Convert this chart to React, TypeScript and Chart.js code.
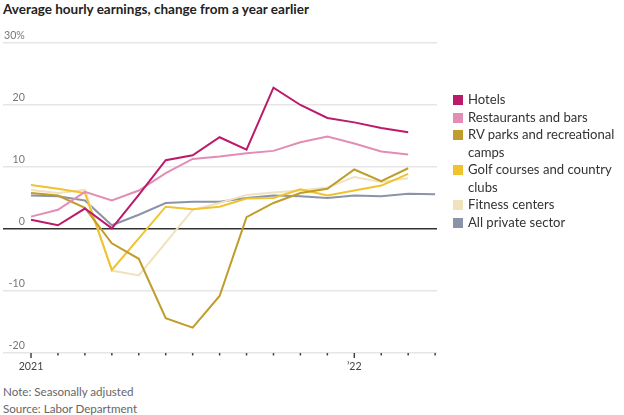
import React, { useEffect, useRef } from 'react';
import { Chart, registerables } from 'chart.js';

Chart.register(...registerables);

const FONT = 'Lato, "Noto Sans", sans-serif';

const months = [
  'Jan 2021', 'Feb 2021', 'Mar 2021', 'Apr 2021', 'May 2021', 'Jun 2021', 'Jul 2021', 'Aug 2021',
  'Sep 2021', 'Oct 2021', 'Nov 2021', 'Dec 2021', 'Jan 2022', 'Feb 2022', 'Mar 2022', 'Apr 2022',
];
const xTickLabels: Record<number, string> = { 0: '2021', 12: '\u201922' };
const yTickValues = [-20, -10, 0, 10, 20, 30];

const hotels = [1.5, 0.6, 3.3, 0.1, 5.5, 11.1, 11.9, 14.8, 12.8, 22.8, 20.0, 17.9, 17.2, 16.3, 15.6];
const restaurants = [2.0, 3.1, 6.0, 4.6, 6.2, 9.0, 11.3, 11.7, 12.2, 12.6, 14.0, 14.9, 13.8, 12.5, 12.0];
const rvParks = [5.8, 5.4, 3.4, -2.3, -4.8, -14.4, -15.9, -10.8, 1.9, 4.2, 5.8, 6.5, 9.6, 7.7, 9.8];
const golf = [7.1, 6.5, 5.8, -6.6, -1.5, 3.6, 3.2, 3.6, 4.9, 5.0, 6.4, 5.4, 6.2, 7.0, 8.9];
const fitness = [6.3, 5.8, 6.3, -6.7, -7.5, -2.2, 3.1, 4.2, 5.5, 5.9, 6.2, 6.7, 8.4, 7.6, 8.2];
const privateSector = [5.4, 5.3, 4.6, 0.6, 2.3, 4.2, 4.4, 4.4, 5.0, 5.4, 5.3, 5.0, 5.4, 5.3, 5.7, 5.6];

const seriesNames = [
  'Hotels',
  'Restaurants and bars',
  'RV parks and recreational camps',
  'Golf courses and country clubs',
  'Fitness centers',
  'All private sector',
];
const seriesColors = ['#bb1a6b', '#e38db5', '#bf9d2a', '#f0c22e', '#efe2bd', '#8b93a8'];
const seriesValues = [hotels, restaurants, rvParks, golf, fitness, privateSector];

const TITLE = 'Average hourly earnings, change from a year earlier';
const NOTE = 'Note: Seasonally adjusted';
const SOURCE = 'Source: Labor Department';

const measureCtx: CanvasRenderingContext2D | null =
  typeof document !== 'undefined' ? document.createElement('canvas').getContext('2d') : null;

function fitSize(text: string, target: number, weight = 'normal', fallback = 13) {
  if (!measureCtx) return fallback;
  measureCtx.font = `${weight} 100px ${FONT}`;
  const w = measureCtx.measureText(text).width;
  if (!w) return fallback;
  return Math.round((1000 * target) / w) / 10;
}

const titleSize = fitSize(TITLE, 308, 'bold', 14);
const legendSize = fitSize('RV parks and recreational', 147, 'normal', 14);
const noteSize = fitSize(SOURCE, 134, 'normal', 12);
const tickSize = fitSize('2021', 24.5, 'normal', 11);

const monthTicks = {
  id: 'monthTicks',
  afterDatasetsDraw(chart: any) {
    const { ctx, scales } = chart;
    const x = scales.x;
    const base = scales.y.getPixelForValue(-20);
    ctx.save();
    ctx.strokeStyle = '#444';
    ctx.lineWidth = 1.5;
    months.forEach((_, i) => {
      const px = x.getPixelForValue(i);
      const len = i % 12 === 0 ? 5 : 2.5;
      ctx.beginPath();
      ctx.moveTo(px, base);
      ctx.lineTo(px, base + len);
      ctx.stroke();
    });
    ctx.restore();
  },
};

function LineChart() {
  const ref = useRef<HTMLCanvasElement | null>(null);
  useEffect(() => {
    if (!ref.current) return;
    const chart = new Chart(ref.current, {
      type: 'line',
      data: {
        datasets: seriesValues.map((vals, si) => ({
          label: seriesNames[si],
          data: vals.map((v, i) => ({ x: i, y: v })),
          borderColor: seriesColors[si],
          backgroundColor: seriesColors[si],
          borderWidth: 2,
          pointRadius: 0,
          tension: 0,
        })),
      },
      options: {
        animation: false,
        responsive: false,
        devicePixelRatio: 1,
        layout: { padding: { left: 3, right: 187, top: 43, bottom: 5 } },
        plugins: { legend: { display: false }, tooltip: { enabled: false } },
        scales: {
          x: {
            type: 'linear',
            min: -1.04,
            max: 15.07,
            afterBuildTicks: (s: any) => {
              s.ticks = [{ value: 0 }, { value: 12 }];
            },
            afterFit: (s: any) => {
              s.height = 22;
            },
            ticks: {
              autoSkip: false,
              maxRotation: 0,
              padding: 7,
              color: '#444',
              font: { family: FONT, size: tickSize },
              callback: (v: any) => xTickLabels[v] ?? '',
            },
            grid: { display: false, drawTicks: false },
            border: { display: false },
          },
          y: {
            min: -20,
            max: 30,
            afterBuildTicks: (s: any) => {
              s.ticks = yTickValues.map((v) => ({ value: v }));
            },
            afterFit: (s: any) => {
              s.width = 0;
            },
            ticks: {
              mirror: true,
              crossAlign: 'far',
              padding: 1,
              labelOffset: -7,
              color: '#777',
              font: { family: FONT, size: tickSize },
              callback: (v: any) => (v === 30 ? '30%' : String(v)),
            },
            grid: {
              drawTicks: false,
              color: (c: any) => (c.tick && c.tick.value === 0 ? '#333' : '#e6e6e6'),
              lineWidth: 1.5,
            },
            border: { display: false },
          },
        },
      },
      plugins: [monthTicks],
    } as any);
    return () => chart.destroy();
  }, []);
  return <canvas ref={ref} width={624} height={380} style={{ position: 'absolute', left: 0, top: 0 }} />;
}

export default function App() {
  return (
    <div style={{ position: 'absolute', left: 0, top: 0, width: 624, height: 415, background: '#fff', fontFamily: FONT }}>
      <div style={{ position: 'absolute', left: 3, top: 0, fontSize: titleSize, lineHeight: '19px', fontWeight: 'bold', color: '#222', whiteSpace: 'nowrap' }}>
        {TITLE}
      </div>
      <LineChart />
      <div style={{ position: 'absolute', left: 453, top: 91, width: 170, fontSize: legendSize, lineHeight: '17.5px', color: '#333' }}>
        {seriesNames.map((n, i) => (
          <div key={n} style={{ display: 'flex', alignItems: 'flex-start' }}>
            <span style={{ display: 'inline-block', flex: '0 0 auto', width: 10, height: 10, marginTop: 4, marginRight: 5, background: seriesColors[i] }} />
            <span>{n}</span>
          </div>
        ))}
      </div>
      <div style={{ position: 'absolute', left: 3, top: 383, fontSize: noteSize, lineHeight: '17px', color: '#666' }}>
        <div>{NOTE}</div>
        <div>{SOURCE}</div>
      </div>
    </div>
  );
}
